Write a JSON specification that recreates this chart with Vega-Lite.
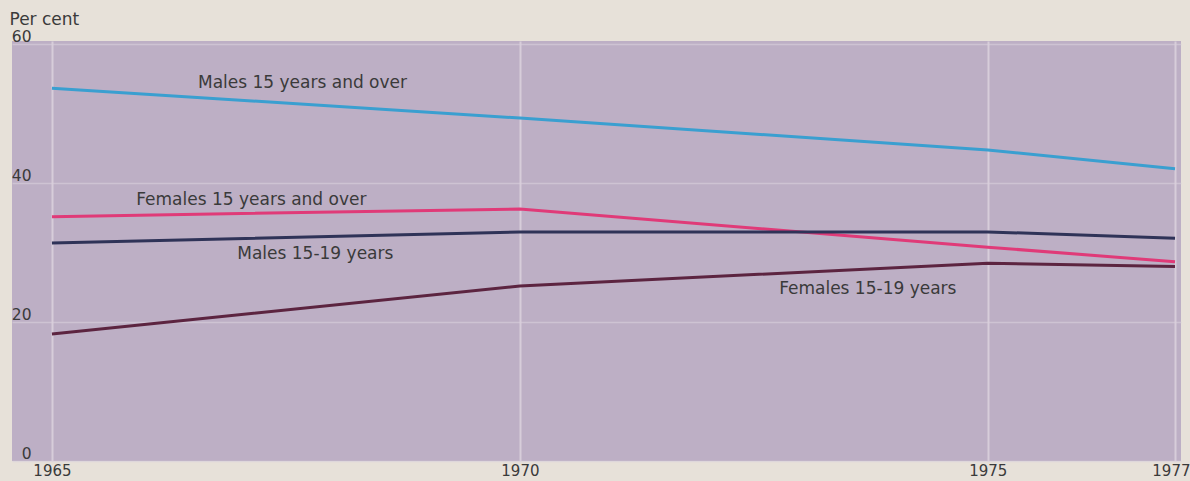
{
  "$schema": "https://vega.github.io/schema/vega-lite/v6.json",
  "autosize": "none",
  "width": 1169,
  "height": 420,
  "padding": {"left": 12, "top": 41, "right": 9, "bottom": 20},
  "background": "#e7e1d9",
  "config": {
    "view": {"fill": "#bdafc5", "stroke": null},
    "font": "DejaVu Sans"
  },
  "datasets": {
    "series": [
      {"year": 1965, "value": 53.7, "group": "Males 15 years and over"},
      {"year": 1970, "value": 49.4, "group": "Males 15 years and over"},
      {"year": 1975, "value": 44.8, "group": "Males 15 years and over"},
      {"year": 1977, "value": 42.1, "group": "Males 15 years and over"},
      {"year": 1965, "value": 35.2, "group": "Females 15 years and over"},
      {"year": 1970, "value": 36.3, "group": "Females 15 years and over"},
      {"year": 1975, "value": 30.8, "group": "Females 15 years and over"},
      {"year": 1977, "value": 28.7, "group": "Females 15 years and over"},
      {"year": 1965, "value": 31.4, "group": "Males 15-19 years"},
      {"year": 1970, "value": 33.0, "group": "Males 15-19 years"},
      {"year": 1975, "value": 33.0, "group": "Males 15-19 years"},
      {"year": 1977, "value": 32.1, "group": "Males 15-19 years"},
      {"year": 1965, "value": 18.3, "group": "Females 15-19 years"},
      {"year": 1970, "value": 25.2, "group": "Females 15-19 years"},
      {"year": 1975, "value": 28.5, "group": "Females 15-19 years"},
      {"year": 1977, "value": 28.0, "group": "Females 15-19 years"}
    ],
    "labels": [
      {"year": 1966.56, "value": 54.5, "text": "Males 15 years and over"},
      {"year": 1965.9, "value": 37.6, "text": "Females 15 years and over"},
      {"year": 1966.98, "value": 29.8, "text": "Males 15-19 years"},
      {"year": 1972.77, "value": 24.8, "text": "Females 15-19 years"}
    ]
  },
  "layer": [
    {
      "data": {"name": "series"},
      "mark": {"type": "line", "strokeWidth": 3, "interpolate": "linear"},
      "encoding": {
        "x": {
          "field": "year",
          "type": "quantitative",
          "scale": {"domain": [1964.573, 1977.064], "nice": false, "zero": false},
          "axis": {
            "values": [1965, 1970, 1975, 1977],
            "format": "d",
            "title": null,
            "domain": false,
            "ticks": false,
            "grid": true,
            "gridColor": "#ddd4de",
            "gridWidth": 2,
            "gridOpacity": 0.8,
            "labelFont": "DejaVu Sans",
            "labelFontSize": 15,
            "labelColor": "#3a3a3a",
            "labelPadding": 2,
            "labelFlush": false,
            "labelOverlap": false,
            "labelAlign": {"expr": "datum.value == 1977 ? 'right' : 'center'"},
            "labelOffset": {"expr": "datum.value == 1977 ? 15 : 0"}
          }
        },
        "y": {
          "field": "value",
          "type": "quantitative",
          "scale": {"domain": [0, 60.5], "nice": false},
          "axis": {
            "values": [0, 20, 40, 60],
            "title": "Per cent",
            "titleAngle": 0,
            "titleAlign": "left",
            "titleBaseline": "alphabetic",
            "titleX": -3,
            "titleY": -17,
            "titleFont": "DejaVu Sans",
            "titleFontSize": 17,
            "titleFontWeight": "normal",
            "titleColor": "#3a3a3a",
            "domain": false,
            "ticks": false,
            "grid": true,
            "gridColor": "#d9d0dc",
            "gridWidth": 1.5,
            "gridOpacity": 0.6,
            "labelFont": "DejaVu Sans",
            "labelFontSize": 15.5,
            "labelColor": "#3a3a3a",
            "labelAlign": "right",
            "labelBaseline": "alphabetic",
            "labelPadding": -19,
            "labelOffset": -3,
            "labelFlush": false,
            "labelOverlap": false
          }
        },
        "color": {
          "field": "group",
          "type": "nominal",
          "scale": {
            "domain": ["Males 15 years and over", "Females 15 years and over", "Males 15-19 years", "Females 15-19 years"],
            "range": ["#3a9fd0", "#e03a78", "#2f3358", "#5c2440"]
          },
          "legend": null
        }
      }
    },
    {
      "data": {"name": "labels"},
      "mark": {"type": "text", "align": "left", "baseline": "middle", "font": "DejaVu Sans", "fontSize": 17, "color": "#3a3a3a"},
      "encoding": {
        "x": {"field": "year", "type": "quantitative"},
        "y": {"field": "value", "type": "quantitative"},
        "text": {"field": "text", "type": "nominal"}
      }
    }
  ]
}
